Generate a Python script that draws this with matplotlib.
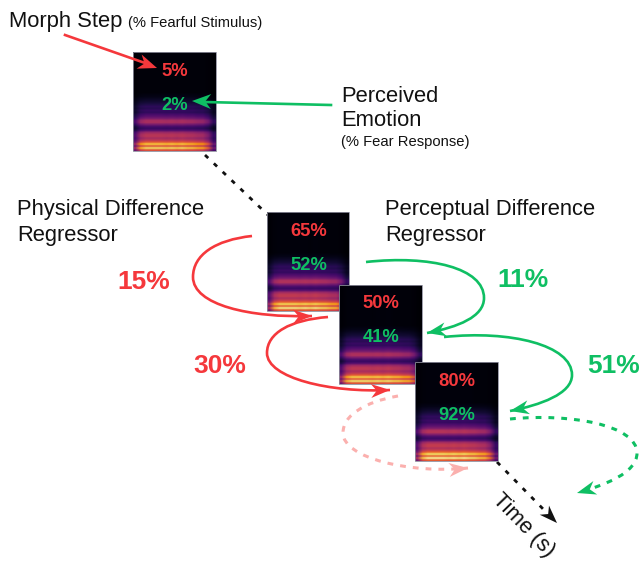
"""Morph step / perceived emotion regressor diagram."""

import matplotlib

matplotlib.use("Agg")
import matplotlib.pyplot as plt
import numpy as np
from matplotlib.patches import PathPatch, Polygon, Rectangle
from matplotlib.path import Path

plt.rcParams["font.family"] = ["Liberation Sans", "DejaVu Sans"]

MORPH_STEP = [5, 65, 50, 80]
FEAR_RESPONSE = [2, 52, 41, 92]
PHYSICAL_DIFF = [15, 30]
PERCEPTUAL_DIFF = [11, 51]

# energy per row of the spectrogram, top to bottom
SPEC_ROWS = [
    0.02, 0.02, 0.02, 0.02, 0.02, 0.02, 0.02, 0.02, 0.02, 0.02,
    0.02, 0.02, 0.02, 0.02, 0.02, 0.02, 0.02, 0.02, 0.02, 0.02,
    0.02, 0.03, 0.04, 0.06, 0.08, 0.10, 0.13, 0.16, 0.15, 0.18,
    0.17, 0.22, 0.27, 0.34, 0.46, 0.48, 0.36, 0.24, 0.18, 0.24,
    0.42, 0.50, 0.52, 0.46, 0.52, 0.64, 0.92, 0.62, 0.97, 0.62,
]
# how much of that energy each column gets, left to right
SPEC_COLS = [0.50, 0.90, 1.0, 1.0, 1.0, 1.0, 0.98, 1.0, 0.97, 1.0, 0.96, 0.95, 0.90, 0.88, 0.70, 0.35]
# row to row differences between the four panels
PANEL_GAIN = [0.96, 1.0, 0.98, 1.02]

PANEL_BOXES = [(133, 52, 216, 151), (267, 212, 349, 311), (339, 285, 422, 384), (415, 362, 498, 461)]
RED = "#f5383c"
GREEN = "#0fbf63"
PINK = "#fbb0ae"
INK = "#111111"


def draw_panel(ax, box, gain, z):
    x0, y0, x1, y1 = box
    image = np.outer(SPEC_ROWS, SPEC_COLS) * gain
    ax.imshow(image, cmap="inferno", vmin=0, vmax=1, extent=(x0, x1, y1, y0), aspect="auto",
              interpolation="bilinear", zorder=z)
    ax.add_patch(Rectangle((x0, y0), x1 - x0, y1 - y0, fill=False, ec="#8d8d9c", lw=0.6, zorder=z + 0.1))


def stealth_head(ax, tip, tail, color, length=19, width=14, z=6):
    tip = np.array(tip, dtype=float)
    d = tip - np.array(tail, dtype=float)
    d = d / np.linalg.norm(d)
    n = np.array([-d[1], d[0]])
    pts = [tip, tip - d * length + n * width / 2, tip - d * length * 0.7, tip - d * length - n * width / 2]
    ax.add_patch(Polygon(pts, closed=True, fc=color, ec="none", zorder=z))


def curve(ax, pts, color, ls="-", lw=1.9, z=5):
    """Draw joined cubic segments through pts and put a head on the end."""
    codes = [Path.MOVETO] + [Path.CURVE4] * (len(pts) - 1)
    ax.add_patch(PathPatch(Path(pts, codes), fc="none", ec=color, lw=lw, ls=ls, capstyle="butt", zorder=z))
    stealth_head(ax, pts[-1], pts[-2], color, z=z + 0.5)


fig = plt.figure(figsize=(6.41, 5.62), dpi=100)
ax = fig.add_axes([0, 0, 1, 1])
ax.axis("off")

for i, box in enumerate(PANEL_BOXES):
    draw_panel(ax, box, PANEL_GAIN[i], 2 + i * 0.5)
    cx = (box[0] + box[2]) / 2
    ax.text(cx + 0.5, box[1] + 19, f"{MORPH_STEP[i]}%", color=RED, fontsize=13.2, fontweight="bold",
            ha="center", va="center", zorder=7)
    ax.text(cx + 0.5, box[1] + 53, f"{FEAR_RESPONSE[i]}%", color=GREEN, fontsize=13.2, fontweight="bold",
            ha="center", va="center", zorder=7)

ax.set_xlim(0, 641)
ax.set_ylim(562, 0)

# time axis
ax.plot([205, 268], [155, 215], color=INK, lw=2.0, ls=(0, (1.6, 2.8)), zorder=1)
ax.plot([497, 548], [462, 514], color=INK, lw=2.0, ls=(0, (1.6, 2.8)), zorder=1)
stealth_head(ax, (557, 523), (497, 462), INK, length=18, width=13)

# callouts
ax.plot([65, 145], [35, 63], color=RED, lw=1.9, zorder=5)
stealth_head(ax, (157, 68), (65, 35), RED, length=19, width=15)
ax.plot([331, 204], [105, 102], color=GREEN, lw=1.9, zorder=5)
stealth_head(ax, (192, 101), (331, 105), GREEN, length=19, width=15)

# regressor arcs
curve(ax, [(252, 236), (215, 240), (193, 255), (193, 277), (193, 305), (250, 318), (312, 316)], RED)
curve(ax, [(328, 317), (290, 320), (267, 333), (267, 353), (267, 378), (330, 393), (390, 390)], RED)
curve(ax, [(366, 262), (430, 255), (484, 268), (484, 298), (484, 317), (458, 327), (427, 333)], GREEN)
curve(ax, [(444, 337), (510, 330), (572, 345), (572, 375), (572, 394), (540, 405), (510, 411)], GREEN)
curve(ax, [(510, 419), (570, 413), (637, 425), (637, 453), (637, 473), (605, 485), (577, 493)], GREEN,
      ls=(0, (1.9, 2.3)), lw=2.2)
curve(ax, [(398, 396), (365, 402), (343, 415), (343, 433), (343, 458), (410, 474), (468, 468)], PINK,
      ls=(0, (1.9, 2.3)), lw=2.2)

# labels
ax.text(9, 22, "Morph Step", fontsize=15.8, va="center", color=INK)
ax.text(128, 23, "(% Fearful Stimulus)", fontsize=10.6, va="center", color=INK)
ax.text(341, 96, "Perceived", fontsize=15.8, va="center", color=INK)
ax.text(341, 120, "Emotion", fontsize=15.8, va="center", color=INK)
ax.text(341, 142, "(% Fear Response)", fontsize=10.6, va="center", color=INK)
ax.text(17, 210, "Physical Difference", fontsize=15.8, va="center", color=INK)
ax.text(17, 235, "Regressor", fontsize=15.8, va="center", color=INK)
ax.text(385, 210, "Perceptual Difference", fontsize=15.8, va="center", color=INK)
ax.text(385, 235, "Regressor", fontsize=15.8, va="center", color=INK)
ax.text(523, 525, "Time (s)", fontsize=15.8, rotation=-46, rotation_mode="anchor", ha="center", va="center",
        color=INK)

for value, (x, y) in zip(PHYSICAL_DIFF, [(144, 282), (220, 366)]):
    ax.text(x, y, f"{value}%", color=RED, fontsize=19, fontweight="bold", ha="center", va="center")
for value, (x, y) in zip(PERCEPTUAL_DIFF, [(523, 280), (614, 366)]):
    ax.text(x, y, f"{value}%", color=GREEN, fontsize=19, fontweight="bold", ha="center", va="center")

fig.savefig("out.png", dpi=100, facecolor="white")
plt.close(fig)
